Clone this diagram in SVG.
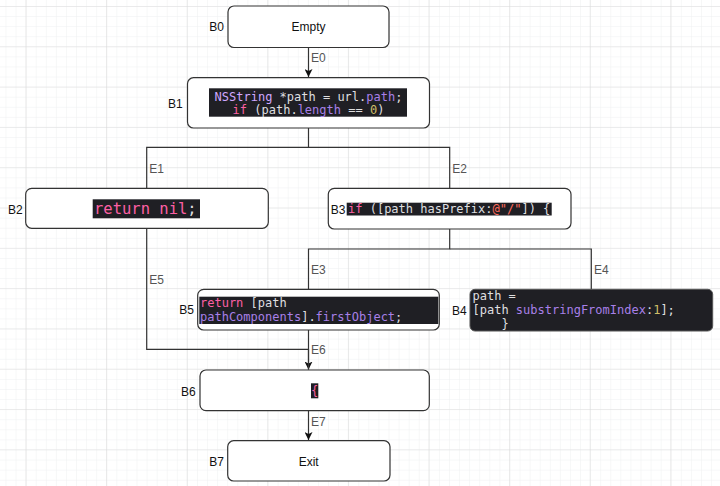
<svg xmlns="http://www.w3.org/2000/svg" width="720" height="486" viewBox="0 0 720 486">
<style>
.node{fill:#ffffff;stroke:#333333;stroke-width:1.2}
.lbl{font-family:"Liberation Sans",Arial,sans-serif;font-size:12px;fill:#111111}
.elbl{font-family:"Liberation Sans",Arial,sans-serif;font-size:12px;fill:#555555}
.code{font-family:"DejaVu Sans Mono","Liberation Mono",monospace;font-size:12px;fill:#dfdfe0}
.bg{fill:#1f1f24}
.kw{fill:#fc5fa3}
.cls{fill:#d0a8ff}
.prop{fill:#a880e8}
.num{fill:#d0bf69}
.str{fill:#fc6a5d}
.edge{fill:none;stroke:#333333;stroke-width:1.2}
</style>
<defs>
<pattern id="minor" x="5.5" y="6" width="10.08" height="10.08" patternUnits="userSpaceOnUse">
<path d="M0 0H10.08M0 0V10.08" fill="none" stroke="#eef0f1" stroke-width="1"/>
</pattern>
<pattern id="majorV" x="25.5" y="0" width="80.6" height="486" patternUnits="userSpaceOnUse">
<path d="M0 0V486" fill="none" stroke="#d8d8d8" stroke-width="1"/>
</pattern>
<pattern id="majorH" x="0" y="6" width="720" height="40.3" patternUnits="userSpaceOnUse">
<path d="M0 0H720" fill="none" stroke="#dedede" stroke-width="1"/>
</pattern>
<marker id="arr" viewBox="0 0 10 10" refX="10" refY="5" markerWidth="8" markerHeight="8" markerUnits="userSpaceOnUse" orient="auto">
<path d="M0 0L10 5L0 10L2.5 5Z" fill="#111111"/>
</marker>
</defs>
<rect width="720" height="486" fill="#ffffff"/>
<rect width="720" height="486" fill="url(#minor)"/>
<rect width="720" height="486" fill="url(#majorH)"/>
<rect width="720" height="486" fill="url(#majorV)"/>

<g id="connectors">
<path class="edge" d="M308.5 47.7V77" marker-end="url(#arr)"/>
<path class="edge" d="M308.5 128V147.3H146.7V188"/>
<path class="edge" d="M308.5 147.3H449.7V188"/>
<path class="edge" d="M449.7 229V249H308.5V289.3"/>
<path class="edge" d="M449.7 249H591.3V289.3"/>
<path class="edge" d="M146.7 228.3V349.3H308.5V369.5" marker-end="url(#arr)"/>
<path class="edge" d="M308.5 330V369.5"/>
<path class="edge" d="M308.5 410.7V440" marker-end="url(#arr)"/>
<text class="elbl" x="311" y="62">E0</text>
<text class="elbl" x="149.3" y="173.3">E1</text>
<text class="elbl" x="452.3" y="173.3">E2</text>
<text class="elbl" x="311" y="274.3">E3</text>
<text class="elbl" x="594" y="274.3">E4</text>
<text class="elbl" x="149.3" y="284.3">E5</text>
<text class="elbl" x="311" y="354.3">E6</text>
<text class="elbl" x="311" y="426">E7</text>
</g>

<g id="B0">
<rect class="node" x="228" y="6" width="161" height="41.5" rx="6"/>
<text class="lbl" x="308.5" y="31.3" text-anchor="middle">Empty</text>
<text class="lbl" x="224" y="31.3" text-anchor="end">B0</text>
</g>

<g id="B1">
<rect class="node" x="187.5" y="77.7" width="242" height="50.3" rx="6"/>
<rect class="bg" x="209" y="88.3" width="198" height="28.4"/>
<text class="code" x="308.5" y="100.5" text-anchor="middle"><tspan class="cls">NSString</tspan> *path = url.<tspan class="prop">path</tspan>;</text>
<text class="code" x="308.5" y="113.5" text-anchor="middle"><tspan class="kw">if</tspan> (path.<tspan class="prop">length</tspan> == <tspan class="num">0</tspan>)</text>
<text class="lbl" x="182.7" y="107.6" text-anchor="end">B1</text>
</g>

<g id="B2">
<rect class="node" x="25.7" y="188.3" width="242.6" height="40" rx="6"/>
<rect class="bg" x="92.7" y="199.3" width="107.3" height="19"/>
<text class="code" x="94" y="214.3" style="font-size:15.5px"><tspan class="kw">return</tspan> <tspan class="kw">nil</tspan>;</text>
<text class="lbl" x="22.7" y="213.6" text-anchor="end">B2</text>
</g>

<g id="B3">
<rect class="node" x="328.3" y="188.3" width="242.7" height="40.7" rx="6"/>
<rect class="bg" x="346.7" y="202.7" width="205" height="12.8"/>
<text class="code" x="348" y="213.3"><tspan class="kw">if</tspan> ([path hasPrefix:<tspan class="str">@"/"</tspan>]) {</text>
<text class="lbl" x="330.7" y="213.6">B3</text>
</g>

<g id="B5">
<rect class="node" x="197.7" y="289.3" width="241.6" height="40.7" rx="6"/>
<rect class="bg" x="199.3" y="296.7" width="239" height="27.3"/>
<text class="code" x="200" y="307"><tspan class="kw">return</tspan> [path</text>
<text class="code" x="200" y="321"><tspan class="prop">pathComponents</tspan>].<tspan class="prop">firstObject</tspan>;</text>
<text class="lbl" x="194" y="314.3" text-anchor="end">B5</text>
</g>

<g id="B4">
<rect x="470" y="289.3" width="242.7" height="41.7" rx="5" fill="#1f1f24" stroke="#555555" stroke-width="1"/>
<text class="code" x="472.5" y="300.3">path =</text>
<text class="code" x="472.5" y="314.3">[path <tspan class="prop">substringFromIndex</tspan>:<tspan class="num">1</tspan>];</text>
<text class="code" x="501.4" y="327.6">}</text>
<text class="lbl" x="466.7" y="315" text-anchor="end">B4</text>
</g>

<g id="B6">
<rect class="node" x="200" y="370" width="229.3" height="40.7" rx="6"/>
<rect class="bg" x="311" y="383.3" width="7.3" height="15"/>
<text class="code kw" x="314.7" y="395" text-anchor="middle">{</text>
<text class="lbl" x="195.7" y="396" text-anchor="end">B6</text>
</g>

<g id="B7">
<rect class="node" x="227.7" y="440.7" width="162.3" height="40.3" rx="6"/>
<text class="lbl" x="308.7" y="466" text-anchor="middle">Exit</text>
<text class="lbl" x="224" y="466" text-anchor="end">B7</text>
</g>
</svg>
